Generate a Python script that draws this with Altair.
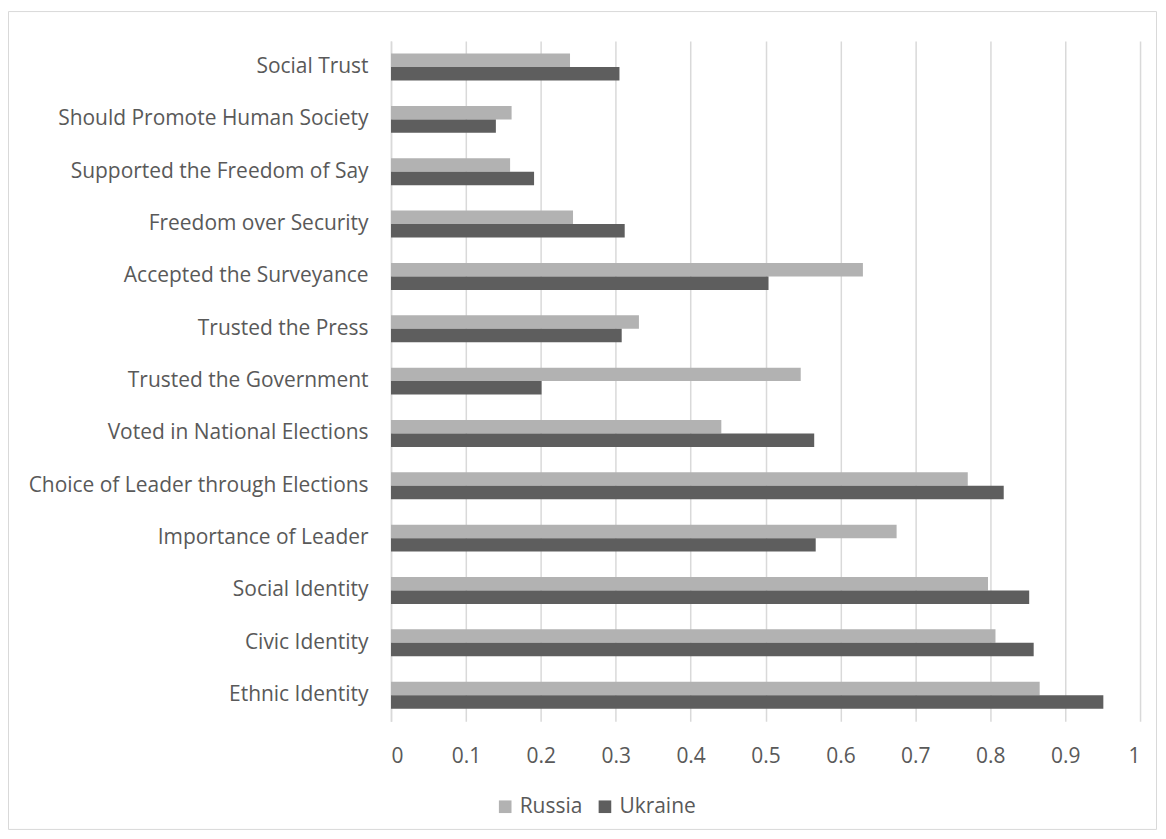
import altair as alt
import pandas as pd

NB = "\u00a0"
categories = [
    "Social Trust" + NB,
    "Should Promote Human Society" + NB,
    "Supported the Freedom of Say" + NB,
    "Freedom over Security",
    "Accepted the Surveyance" + NB,
    "Trusted the Press",
    "Trusted the Government" + NB,
    "Voted in National Elections",
    "Choice of Leader through Elections" + NB,
    "Importance of Leader" + NB,
    "Social Identity",
    "Civic Identity",
    "Ethnic Identity",
]
countries = ["Russia", "Ukraine"]
russia = [0.239, 0.161, 0.159, 0.243, 0.630, 0.331, 0.547, 0.441, 0.770, 0.675, 0.797, 0.807, 0.866]
ukraine = [0.305, 0.140, 0.191, 0.312, 0.504, 0.308, 0.201, 0.565, 0.818, 0.567, 0.852, 0.858, 0.951]
colors = ["#b2b2b2", "#5e5e5e"]
x_ticks = [0, 0.1, 0.2, 0.3, 0.4, 0.5, 0.6, 0.7, 0.8, 0.9, 1.0]

rows = []
for c, r, u in zip(categories, russia, ukraine):
    rows.append({"category": c, "country": "Russia", "value": r})
    rows.append({"category": c, "country": "Ukraine", "value": u})
df = pd.DataFrame(rows)

FONT = "Open Sans"
TXT = "#595959"
FS = 21

bars = alt.Chart(df).mark_bar().encode(
    y=alt.Y(
        "category:N",
        sort=categories,
        title=None,
        scale=alt.Scale(paddingInner=0.485, paddingOuter=0.24),
        axis=alt.Axis(
            domain=True, domainColor="#d9d9d9", domainWidth=1.5,
            ticks=False, grid=False, labelPadding=23,
            labelFont=FONT, labelFontSize=FS, labelColor=TXT, labelLimit=400,
        ),
    ),
    yOffset=alt.YOffset("country:N", sort=countries),
    x=alt.X(
        "value:Q",
        title=None,
        scale=alt.Scale(domain=[0, 1], nice=False),
        axis=alt.Axis(
            values=x_ticks, format=".1~f", domain=False, ticks=False,
            grid=True, gridColor="#d9d9d9", gridWidth=1.5,
            labelPadding=24, labelFont=FONT, labelFontSize=FS, labelColor=TXT,
        ),
    ),
    color=alt.Color(
        "country:N",
        sort=countries,
        scale=alt.Scale(domain=countries, range=colors),
        legend=alt.Legend(
            title=None, orient="none", direction="horizontal",
            legendX=104, legendY=757, padding=0,
            symbolType="square", symbolSize=160, symbolStrokeWidth=0,
            labelFont=FONT, labelFontSize=FS, labelColor=TXT,
            columnPadding=12, labelOffset=4,
        ),
    ),
)

border = alt.Chart(pd.DataFrame({"b": [0]})).mark_rect(
    fillOpacity=0, stroke="#d9d9d9", strokeWidth=1
).encode(
    x=alt.value(-383.5), x2=alt.value(767.5),
    y=alt.value(-29.5), y2=alt.value(790.5),
)

chart = alt.layer(bars, border).properties(
    width=751,
    height=682,
    autosize=alt.AutoSizeParams(type="none"),
    padding={"left": 384, "top": 32, "right": 18, "bottom": 112},
).configure_view(stroke=None)

chart.save("out.html", embed_options={"renderer": "svg", "actions": False})
